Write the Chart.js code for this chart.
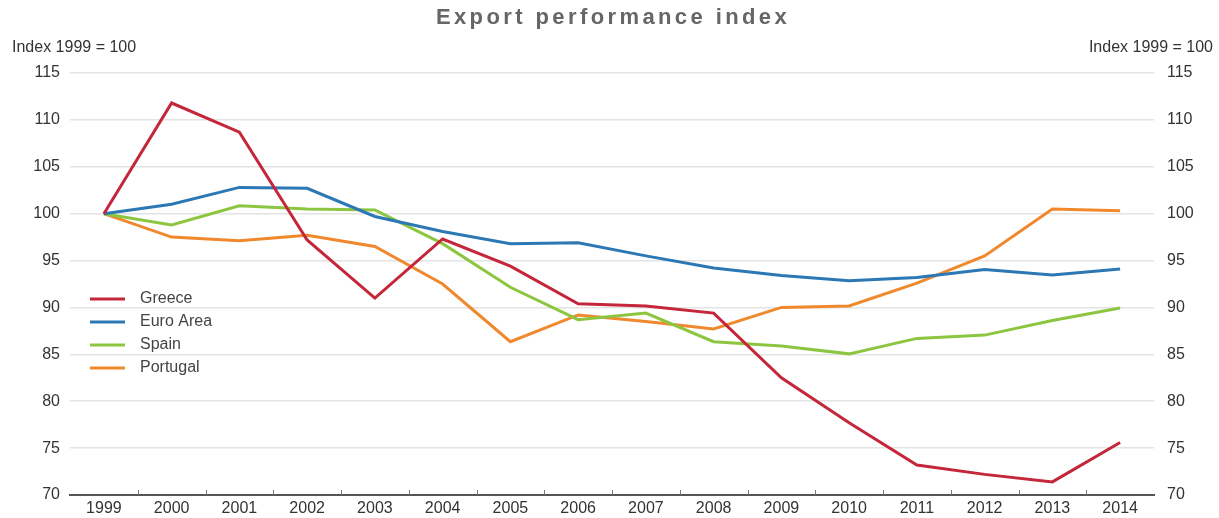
<!DOCTYPE html>
<html>
<head>
<meta charset="utf-8">
<script src="https://cdn.jsdelivr.net/npm/chart.js@4.4.1/dist/chart.umd.min.js"></script>
<style>
html,body{margin:0;padding:0;background:#fff;}
#wrap{width:1219px;height:518px;position:relative;}
</style>
</head>
<body>
<div id="wrap"><canvas id="c" width="1219" height="518"></canvas></div>
<script>
const chartTitle = "Export performance index";
const unitLabel = "Index 1999 = 100";
const years = ["1999","2000","2001","2002","2003","2004","2005","2006","2007","2008","2009","2010","2011","2012","2013","2014"];
const greece   = [100, 111.8, 108.7, 97.2, 91.0, 97.3, 94.4, 90.4, 90.15, 89.4, 82.5, 77.7, 73.2, 72.2, 71.4, 75.6];
const euroArea = [100, 101.0, 102.8, 102.7, 99.7, 98.1, 96.8, 96.9, 95.5, 94.2, 93.4, 92.85, 93.2, 94.05, 93.45, 94.1];
const spain    = [100, 98.8, 100.85, 100.5, 100.4, 96.8, 92.15, 88.7, 89.4, 86.35, 85.9, 85.05, 86.7, 87.05, 88.6, 89.95];
const portugal = [100, 97.5, 97.1, 97.7, 96.5, 92.5, 86.35, 89.2, 88.5, 87.7, 90.0, 90.15, 92.6, 95.5, 100.5, 100.3];
const seriesNames = ["Greece","Euro Area","Spain","Portugal"];
const seriesColors = ["#c4263a","#2b78b5","#8cc640","#f0892e"];
const yMin = 70, yMax = 115, yStep = 5;

const font = "'Liberation Sans', Arial, sans-serif";

const overlay = {
  id: 'overlay',
  afterDraw(chart) {
    const ctx = chart.ctx;
    ctx.save();
    // title
    ctx.fillStyle = '#666';
    ctx.font = "bold 22px " + font;
    try { ctx.letterSpacing = '3.4px'; } catch(e) {}
    ctx.textAlign = 'center';
    ctx.textBaseline = 'middle';
    ctx.fillText(chartTitle, 613, 18);
    try { ctx.letterSpacing = '0px'; } catch(e) {}
    // unit labels
    ctx.fillStyle = '#333';
    ctx.font = "16px " + font;
    ctx.textAlign = 'left';
    ctx.fillText(unitLabel, 12, 48);
    ctx.textAlign = 'right';
    ctx.fillText(unitLabel, 1213, 48);
    // small upward ticks on x axis at category boundaries
    const xs = chart.scales.x;
    const bottom = chart.chartArea.bottom;
    ctx.strokeStyle = '#777';
    ctx.lineWidth = 1;
    for (let i = 0; i < chart.data.labels.length - 1; i++) {
      const px = (xs.getPixelForValue(i) + xs.getPixelForValue(i + 1)) / 2;
      ctx.beginPath();
      ctx.moveTo(Math.round(px) + 0.5, bottom);
      ctx.lineTo(Math.round(px) + 0.5, bottom - 5);
      ctx.stroke();
    }
    // legend
    const ds = chart.data.datasets;
    ctx.font = "16px " + font;
    ctx.textAlign = 'left';
    ds.forEach((d, i) => {
      const y = 299 + i * 23;
      ctx.strokeStyle = d.borderColor;
      ctx.lineWidth = 3;
      ctx.beginPath();
      ctx.moveTo(90, y);
      ctx.lineTo(125, y);
      ctx.stroke();
      ctx.fillStyle = '#444';
      ctx.fillText(d.label, 140, y);
    });
    ctx.restore();
  }
};

const datasets = [greece, euroArea, spain, portugal].map((vals, i) => ({
  label: seriesNames[i],
  data: vals,
  borderColor: seriesColors[i],
  backgroundColor: seriesColors[i],
  borderWidth: 3,
  pointRadius: 0,
  tension: 0,
  fill: false
}));

new Chart(document.getElementById('c'), {
  type: 'line',
  data: { labels: years, datasets },
  options: {
    responsive: false,
    animation: false,
    layout: { padding: { top: 73, left: 0, right: 0, bottom: 0 } },
    plugins: { legend: { display: false }, title: { display: false }, tooltip: { enabled: false } },
    scales: {
      x: {
        offset: true,
        grid: { offset: true, drawOnChartArea: false, drawTicks: false },
        border: { display: true, color: '#555', width: 2 },
        ticks: { color: '#333', font: { family: font, size: 16 }, padding: 4, maxRotation: 0, autoSkip: false },
        afterFit(s) { s.height = 23; }
      },
      y: {
        position: 'left',
        min: yMin, max: yMax,
        ticks: { stepSize: yStep, color: '#333', font: { family: font, size: 16 }, padding: 10 },
        grid: { color: '#e3e3e3', lineWidth: 1.5, drawTicks: false },
        border: { display: false },
        afterFit(s) { s.width = 70; }
      },
      y2: {
        position: 'right',
        min: yMin, max: yMax,
        ticks: { stepSize: yStep, color: '#333', font: { family: font, size: 16 }, padding: 13 },
        grid: { drawOnChartArea: false, drawTicks: false },
        border: { display: false },
        afterFit(s) { s.width = 65; }
      }
    }
  },
  plugins: [overlay]
});
</script>
</body>
</html>
